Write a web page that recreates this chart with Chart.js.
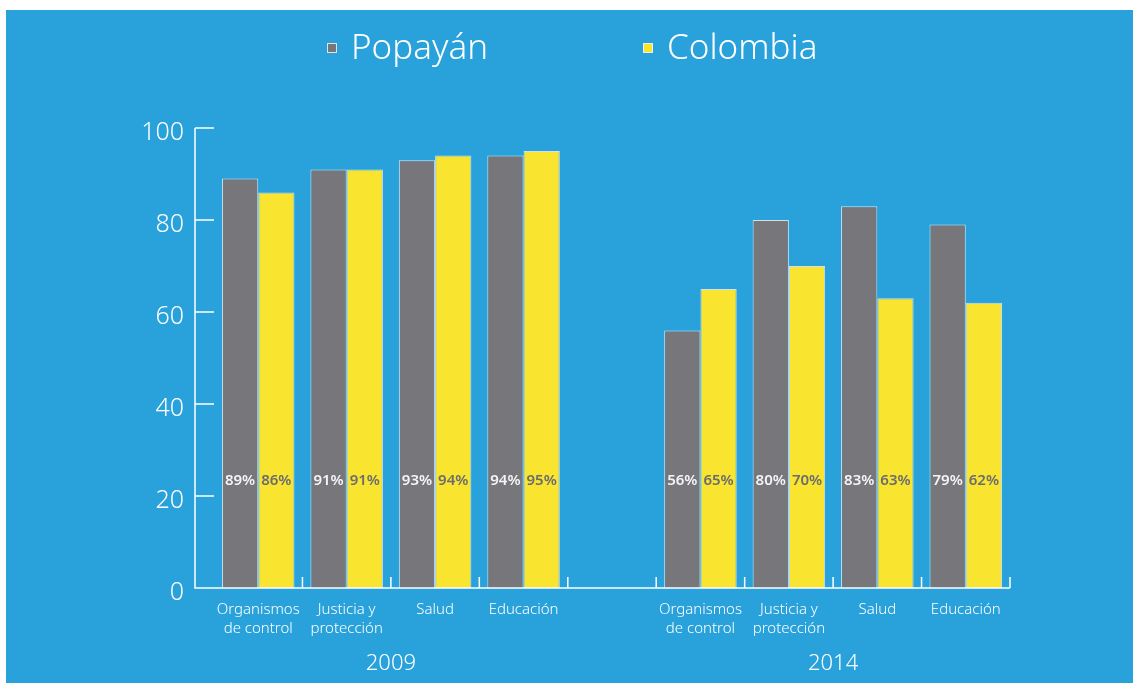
<!DOCTYPE html>
<html>
<head>
<meta charset="utf-8">
<script src="https://cdn.jsdelivr.net/npm/chart.js@4.4.1/dist/chart.umd.min.js"></script>
<style>
  html, body { margin: 0; padding: 0; background: #ffffff; }
  #wrap { position: absolute; left: 6px; top: 10px; width: 1127px; height: 673px; background: #29a2dc; }
</style>
</head>
<body>
<div id="wrap"><canvas id="chart"></canvas></div>
<script>
// Categories per year block, with an empty slot between 2009 and 2014
const categories = [
  ['Organismos', 'de control'], ['Justicia y', 'protección'], 'Salud', 'Educación',
  '',
  ['Organismos', 'de control'], ['Justicia y', 'protección'], 'Salud', 'Educación',
];
const popayan = [89, 91, 93, 94, null, 56, 80, 83, 79];
const colombia = [86, 91, 94, 95, null, 65, 70, 63, 62];
const seriesNames = ['Popayán', 'Colombia'];
const yearLabels = ['2009', '2014'];
const yearGroups = [[0, 3], [5, 8]];

const FONT = '"Noto Sans", "DejaVu Sans", sans-serif';
const WHITE = '#ffffff';
const GRAY = '#77777b';
const YELLOW = '#f9e42f';
const labelColors = ['#f4f4f4', '#6b6c70'];

// Hand-drawn axes: y line offset left of the bars, short ticks on both axes
const axisLines = {
  id: 'axisLines',
  afterDraw(chart) {
    const { ctx, chartArea, scales: { x, y } } = chart;
    const axisX = chartArea.left - 19;
    const slot = (chartArea.right - chartArea.left) / categories.length;
    ctx.save();
    ctx.strokeStyle = WHITE;
    ctx.lineWidth = 1.5;
    ctx.beginPath();
    ctx.moveTo(axisX, y.getPixelForValue(100));
    ctx.lineTo(axisX, chartArea.bottom);
    ctx.lineTo(chartArea.right, chartArea.bottom);
    y.ticks.forEach(t => {
      if (t.value > 0) {
        const py = y.getPixelForValue(t.value);
        ctx.moveTo(axisX, py);
        ctx.lineTo(chartArea.left, py);
      }
    });
    for (let i = 1; i <= categories.length; i++) {
      const px = chartArea.left + i * slot;
      ctx.moveTo(px, chartArea.bottom);
      ctx.lineTo(px, chartArea.bottom - 11);
    }
    ctx.stroke();
    ctx.restore();
  },
};

// Percent labels inside each bar
const valueLabels = {
  id: 'valueLabels',
  afterDatasetsDraw(chart) {
    const { ctx, scales: { y } } = chart;
    const py = y.getPixelForValue(23.3);
    ctx.save();
    ctx.font = '600 15px ' + FONT;
    ctx.textAlign = 'center';
    ctx.textBaseline = 'middle';
    chart.data.datasets.forEach((ds, di) => {
      ctx.fillStyle = labelColors[di];
      chart.getDatasetMeta(di).data.forEach((bar, i) => {
        const v = ds.data[i];
        if (v == null) return;
        ctx.fillText(v + '%', bar.x, py);
      });
    });
    ctx.restore();
  },
};

// Year captions under each block of categories
const yearCaptions = {
  id: 'yearCaptions',
  afterDraw(chart) {
    const { ctx, chartArea, scales: { x } } = chart;
    ctx.save();
    ctx.font = '300 22px ' + FONT;
    ctx.fillStyle = WHITE;
    ctx.textAlign = 'center';
    ctx.textBaseline = 'middle';
    yearGroups.forEach(([a, b], i) => {
      const cx = (x.getPixelForValue(a) + x.getPixelForValue(b)) / 2;
      ctx.fillText(yearLabels[i], cx, chartArea.bottom + 76);
    });
    ctx.restore();
  },
};

// Wide-spaced legend at the top
const topLegend = {
  id: 'topLegend',
  afterDraw(chart) {
    const { ctx } = chart;
    const boxX = [321, 637];
    const cy = 38;
    ctx.save();
    ctx.font = '300 35px ' + FONT;
    ctx.textBaseline = 'middle';
    chart.data.datasets.forEach((ds, i) => {
      ctx.fillStyle = ds.backgroundColor;
      ctx.fillRect(boxX[i], cy - 5, 10, 10);
      ctx.strokeStyle = 'rgba(235,240,245,0.9)';
      ctx.lineWidth = 1;
      ctx.strokeRect(boxX[i] + 0.5, cy - 4.5, 9, 9);
      ctx.fillStyle = WHITE;
      ctx.fillText(seriesNames[i], boxX[i] + 24, cy + 1);
    });
    ctx.restore();
  },
};

new Chart(document.getElementById('chart'), {
  type: 'bar',
  data: {
    labels: categories,
    datasets: [
      {
        label: seriesNames[0],
        data: popayan,
        backgroundColor: GRAY,
        borderColor: 'rgba(225,232,238,0.9)',
        borderWidth: 1,
      },
      {
        label: seriesNames[1],
        data: colombia,
        backgroundColor: YELLOW,
        borderColor: 'rgba(225,232,238,0.9)',
        borderWidth: 1,
      },
    ],
  },
  options: {
    responsive: true,
    maintainAspectRatio: false,
    animation: false,
    datasets: {
      bar: {
        categoryPercentage: 0.82,
        barPercentage: 1.0,
      },
    },
    layout: {
      padding: { left: 108, right: 123, top: 118, bottom: 0 },
    },
    plugins: {
      legend: { display: false },
      tooltip: { enabled: false },
    },
    scales: {
      x: {
        offset: true,
        grid: { display: false },
        border: { display: false },
        ticks: {
          color: WHITE,
          autoSkip: false,
          maxRotation: 0,
          minRotation: 0,
          padding: 4,
          font: { family: FONT, size: 15, weight: '300', lineHeight: 1.27 },
        },
        afterFit(scale) {
          scale.height = 95;
        },
      },
      y: {
        min: 0,
        max: 100,
        grid: { display: false },
        border: { display: false },
        ticks: {
          stepSize: 20,
          color: WHITE,
          padding: 22,
          labelOffset: 5,
          font: { family: FONT, size: 25, weight: '300' },
        },
        afterFit(scale) {
          scale.width = 100;
        },
      },
    },
  },
  plugins: [axisLines, valueLabels, yearCaptions, topLegend],
});
</script>
</body>
</html>
